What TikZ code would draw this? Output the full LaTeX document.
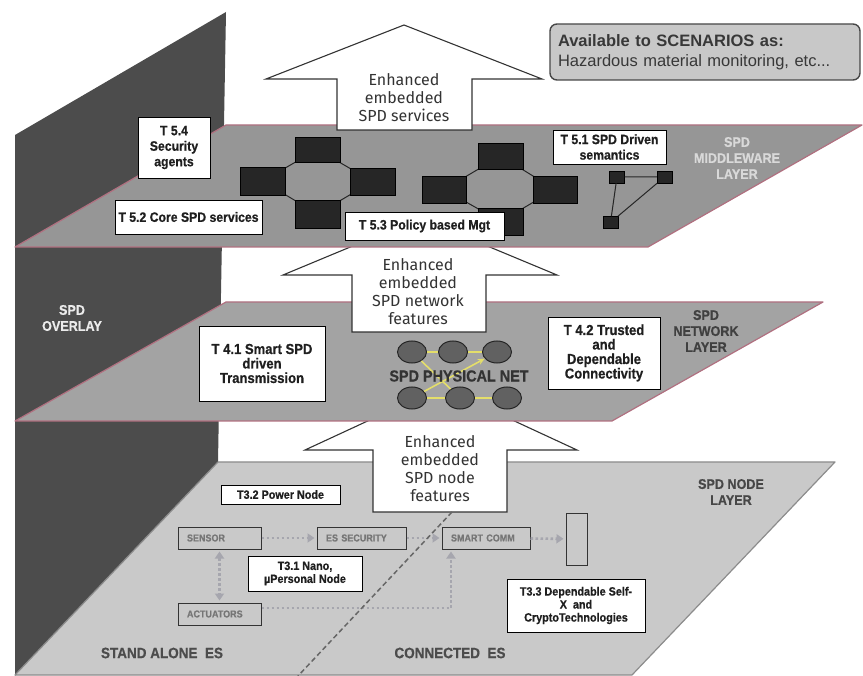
\documentclass[tikz,border=0pt]{standalone}
\usepackage{fontspec}
\setmainfont{Liberation Sans}
\newfontfamily\narrowsans[FakeStretch=0.9, BoldFeatures={FakeBold=0.6}]{Liberation Sans}
\newfontfamily\arrowfont{Fira Sans}
\usetikzlibrary{shapes.geometric,arrows.meta}
\definecolor{wallgray}{HTML}{4C4C4C}
\definecolor{mwgray}{HTML}{969696}
\definecolor{netgray}{HTML}{A3A3A3}
\definecolor{nodegray}{HTML}{C9C9C9}
\definecolor{edgered}{HTML}{B07080}
\definecolor{darkblk}{HTML}{262626}
\definecolor{dotgray}{HTML}{A6A6AE}
\definecolor{labgray}{HTML}{767676}
\definecolor{netyellow}{HTML}{E4DE6A}
\definecolor{scenfill}{HTML}{C8C8C8}
\newcommand{\fsz}[2]{\fontsize{#1}{#2}\selectfont}
\begin{document}
\begin{tikzpicture}[x=1pt,y=-1pt,
  plane/.style={line width=1.2pt, line join=round},
  bigarrow/.style={draw=black!80, fill=white, line width=1.1pt, line join=miter},
  arrowtext/.style={font=\arrowfont\fsz{16}{18}, text=black!80, align=center, inner sep=0pt},
  tbox/.style={draw=black, fill=white, line width=0.8pt, align=center, inner sep=1pt},
  mwbox/.style={tbox, font=\narrowsans\bfseries\fsz{13.6}{15.5}, text=black!88},
  netbox/.style={tbox, font=\narrowsans\bfseries\fsz{14.5}{14.5}, text=black!88},
  ndbox/.style={tbox, font=\narrowsans\bfseries\fsz{12}{13}, text=black!88},
  esbox/.style={draw=black!80, line width=1pt, fill=nodegray, font=\narrowsans\bfseries\fsz{10}{12},
    text=labgray, inner xsep=9pt, inner ysep=0pt, align=left, minimum height=22pt},
  blk/.style={draw=black, fill=darkblk, inner sep=0pt},
  link/.style={draw=darkblk, line width=1pt},
  cell/.style={ellipse, draw=black!85, fill=black!62, line width=1pt,
    minimum width=29pt, minimum height=22pt, inner sep=0pt},
  ylink/.style={draw=netyellow, line width=1.6pt},
  dotarrow/.style={draw=dotgray, line width=2.6pt, dash pattern=on 2.6pt off 2.4pt,
    -{Triangle[length=7pt,width=9pt]}, shorten >=2pt},
  layerlabel/.style={font=\narrowsans\bfseries\fsz{14}{16}, align=center, inner sep=0pt},
  esside/.style={font=\narrowsans\bfseries\fsz{15}{18}, text=black!70, inner sep=0pt},
]
\useasboundingbox (0,0) rectangle (863,676);

% ---- overlay wall ----
\fill[wallgray] (15,135) -- (226,12) -- (218,462) -- (15,676) -- cycle;
\node[layerlabel, text=white!92!black] (overlay) at (72,318) {SPD\\OVERLAY};

% ---- node layer ----
\filldraw[plane, fill=nodegray, draw=black!45] (15,675) -- (218,462) -- (835,462) -- (632,675) -- cycle;
\filldraw[bigarrow] (373,512) -- (373,450) -- (305,450) -- (441,387) -- (577,450) -- (507,450) -- (507,512) -- cycle;
\node[arrowtext] (up3) at (440,469) {Enhanced\\embedded\\SPD node\\features};
\node[layerlabel, text=black!72] (nodelayer) at (731,492) {SPD NODE\\LAYER};

\node[ndbox, minimum width=119pt, minimum height=19pt] (t32) at (280.5,494.5) {T3.2 Power Node};
\node[esbox, text width=65pt] (sensor) at (219.5,538) {SENSOR};
\node[esbox, text width=65pt] (act) at (219.5,614) {ACTUATORS};
\node[esbox, text width=71pt] (essec) at (361.5,538) {ES SECURITY};
\node[esbox, text width=70pt] (smart) at (486,538) {SMART COMM};
\node[draw=black!80, line width=1pt, minimum width=21pt, minimum height=52pt, inner sep=0pt] (tall) at (576.5,539) {};
\node[ndbox, minimum width=114pt, minimum height=35pt] (t31) at (305,573.5) {T3.1 Nano,\\µPersonal Node};
\node[ndbox, minimum width=138pt, minimum height=53pt] (t33) at (576,605.5) {T3.3 Dependable Self-\\X\ \ and\\CryptoTechnologies};

\draw[dotarrow] (sensor) -- (essec);
\draw[dotarrow] (essec) -- (smart);
\draw[dotarrow] (smart) -- (tall);
\draw[dotarrow, {Triangle[length=7pt,width=9pt]}-{Triangle[length=7pt,width=9pt]}, shorten <=2pt] (sensor) -- (act);
\coordinate (bend) at (451,608);
\draw[dotarrow] (act.east |- bend) -- (bend) -- (bend |- smart.south);

\coordinate (splittop) at (452,512);
\coordinate (splitbot) at (298,676);
\draw[draw=black!60, line width=1.5pt, dash pattern=on 5pt off 3pt] (splittop) -- (splitbot);

\node[esside] (standalone) at (162,653) {STAND ALONE\ \ ES};
\node[esside] (connected) at (450,653) {CONNECTED\ \ ES};

% ---- network layer ----
\filldraw[plane, fill=netgray, draw=edgered] (15,421) -- (226,302) -- (823,302) -- (612,421) -- cycle;
\filldraw[bigarrow] (352,332) -- (352,275) -- (283,275) -- (420,218) -- (557,275) -- (486,275) -- (486,332) -- cycle;
\node[arrowtext] (up2) at (418,292) {Enhanced\\embedded\\SPD network\\features};
\node[layerlabel, text=black!75] (netlayer) at (706,331) {SPD\\NETWORK\\LAYER};

\node[netbox, minimum width=126pt, minimum height=75pt] (t41) at (262,363.5) {T 4.1 Smart SPD\\driven\\Transmission};
\node[netbox, minimum width=112pt, minimum height=72pt] (t42) at (604,353) {T 4.2 Trusted\\and\\Dependable\\Connectivity};

\node[cell] (e1) at (412,352) {};
\node[cell] (e2) at (453,352) {};
\node[cell] (e3) at (497,352) {};
\node[cell] (e4) at (412,398) {};
\node[cell] (e5) at (460,398) {};
\node[cell] (e6) at (507,398) {};
\draw[ylink] (e1) -- (e2);
\draw[ylink] (e2) -- (e3);
\draw[ylink] (e4) -- (e5);
\draw[ylink] (e5) -- (e6);
\draw[ylink] (e1) -- (e5);
\draw[ylink, -{Stealth[length=7pt,width=6pt]}] (e4) -- (e3);
\node[font=\narrowsans\bfseries\fsz{16}{16}, text=black!80, inner sep=0pt] (physnet) at (459,376) {SPD PHYSICAL NET};

% ---- middleware layer ----
\filldraw[plane, fill=mwgray, draw=edgered] (15,247) -- (226,125) -- (862,125) -- (648,247) -- cycle;
\filldraw[bigarrow] (337,130) -- (337,79) -- (266,79) -- (404,25) -- (542,79) -- (472,79) -- (472,130) -- cycle;
\node[arrowtext] (up1) at (404,98) {Enhanced\\embedded\\SPD services};
\node[layerlabel, text=white!85!black] (mwlayer) at (737,158) {SPD\\MIDDLEWARE\\LAYER};

% service cluster: links run centre to centre, blocks on top
\coordinate (a1c) at (262.5,181);
\coordinate (a2c) at (317.5,149.5);
\coordinate (a3c) at (372.5,181.5);
\coordinate (a4c) at (317.5,214);
\draw[link] (a1c) -- (a2c) -- (a3c) -- (a4c) -- cycle;
\node[blk, minimum width=45pt, minimum height=28pt] (a1) at (a1c) {};
\node[blk, minimum width=45pt, minimum height=25pt] (a2) at (a2c) {};
\node[blk, minimum width=45pt, minimum height=27pt] (a3) at (a3c) {};
\node[blk, minimum width=45pt, minimum height=28pt] (a4) at (a4c) {};
% policy cluster
\coordinate (b1c) at (444,189.5);
\coordinate (b2c) at (500.5,156);
\coordinate (b3c) at (555,189.5);
\coordinate (b4c) at (500.5,221.5);
\draw[link] (b1c) -- (b2c) -- (b3c) -- (b4c) -- cycle;
\node[blk, minimum width=44pt, minimum height=27pt] (b1) at (b1c) {};
\node[blk, minimum width=45pt, minimum height=26pt] (b2) at (b2c) {};
\node[blk, minimum width=44pt, minimum height=27pt] (b3) at (b3c) {};
\node[blk, minimum width=45pt, minimum height=27pt] (b4) at (b4c) {};
% semantics triangle
\node[blk, minimum width=15pt, minimum height=12pt] (c1) at (617,177) {};
\node[blk, minimum width=15pt, minimum height=12pt] (c2) at (664.5,177) {};
\node[blk, minimum width=15pt, minimum height=12pt] (c3) at (610.5,222.5) {};
\draw[link] (c1) -- (c2) -- (c3) -- (c1);

\node[mwbox, minimum width=72pt, minimum height=61pt] (t54) at (174,147.5) {T 5.4\\Security\\agents};
\node[mwbox, minimum width=147pt, minimum height=34pt] (t52) at (188.5,217) {T 5.2 Core SPD services};
\node[mwbox, minimum width=159pt, minimum height=28pt] (t53) at (424.5,226) {T 5.3 Policy based Mgt};
\node[mwbox, minimum width=113pt, minimum height=34pt] (t51) at (609.5,147) {T 5.1 SPD Driven\\semantics};

% ---- scenarios ----
\node[draw=black!72, fill=scenfill, rounded corners=7pt, line width=1.4pt,
  text width=294pt, inner xsep=8pt, minimum height=56pt, align=left,
  font=\fsz{16.5}{20}, text=black!78] (scen) at (705,52)
  {\textbf{Available to SCENARIOS as:}\\Hazardous material monitoring, etc...};
\end{tikzpicture}
\end{document}
